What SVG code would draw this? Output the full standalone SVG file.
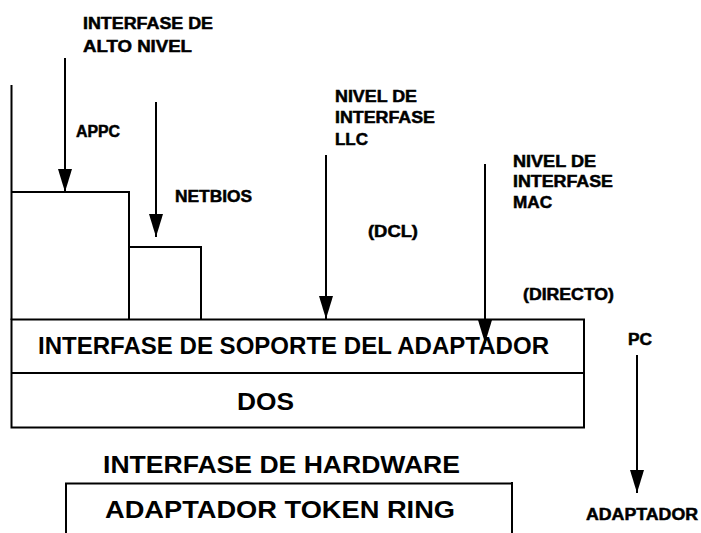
<svg xmlns="http://www.w3.org/2000/svg" width="701" height="533" viewBox="0 0 701 533">
<style>
text{font-family:"Liberation Sans",Arial,sans-serif;font-weight:bold;fill:#000}
.s{font-size:16px;stroke:#000;stroke-width:0.5}
.b{font-size:24px}
.ln{stroke:#000;stroke-width:2;fill:none}
.ar{stroke:#000;stroke-width:2;fill:none;marker-end:url(#ah)}
</style>
<defs>
<marker id="ah" markerUnits="userSpaceOnUse" markerWidth="24" markerHeight="14" refX="23" refY="7" orient="auto">
<path d="M0,0 L23,7 L0,14 Z" fill="#000"/>
</marker>
</defs>
<rect width="701" height="533" fill="#fff"/>
<g id="appc">
<path class="ln" d="M11.5,85 V320 M11.5,192 H129 V320"/>
<text class="s" x="76" y="137" textLength="44" lengthAdjust="spacingAndGlyphs">APPC</text>
</g>
<g id="netbios">
<path class="ln" d="M129,247 H201 V320"/>
<text class="s" x="175" y="202" textLength="77" lengthAdjust="spacingAndGlyphs">NETBIOS</text>
</g>
<g id="soporte">
<rect class="ln" x="11.5" y="319.5" width="572.5" height="108"/>
<text class="b" x="38" y="354" textLength="511" lengthAdjust="spacingAndGlyphs">INTERFASE DE SOPORTE DEL ADAPTADOR</text>
</g>
<g id="dos">
<path class="ln" d="M11.5,373 H584"/>
<text class="b" x="237" y="410" textLength="57" lengthAdjust="spacingAndGlyphs">DOS</text>
</g>
<g id="hardware">
<text class="b" x="103" y="473" textLength="357" lengthAdjust="spacingAndGlyphs">INTERFASE DE HARDWARE</text>
</g>
<g id="tokenring">
<path class="ln" d="M66,533 V483.5 H512 M512,482 V533"/>
<text class="b" x="105" y="518" textLength="350" lengthAdjust="spacingAndGlyphs">ADAPTADOR TOKEN RING</text>
</g>
<g id="labels">
<text class="s" x="83" y="29" textLength="130" lengthAdjust="spacingAndGlyphs">INTERFASE DE</text>
<text class="s" x="83" y="52" textLength="109" lengthAdjust="spacingAndGlyphs">ALTO NIVEL</text>
<text class="s" x="335" y="102" textLength="82" lengthAdjust="spacingAndGlyphs">NIVEL DE</text>
<text class="s" x="335" y="123" textLength="100" lengthAdjust="spacingAndGlyphs">INTERFASE</text>
<text class="s" x="335" y="145" textLength="33" lengthAdjust="spacingAndGlyphs">LLC</text>
<text class="s" x="513" y="167" textLength="83" lengthAdjust="spacingAndGlyphs">NIVEL DE</text>
<text class="s" x="513" y="187" textLength="100" lengthAdjust="spacingAndGlyphs">INTERFASE</text>
<text class="s" x="513" y="208" textLength="39" lengthAdjust="spacingAndGlyphs">MAC</text>
<text class="s" x="368" y="237" textLength="50" lengthAdjust="spacingAndGlyphs">(DCL)</text>
<text class="s" x="523" y="300" textLength="91" lengthAdjust="spacingAndGlyphs">(DIRECTO)</text>
<text class="s" x="628" y="345" textLength="24" lengthAdjust="spacingAndGlyphs">PC</text>
<text class="s" x="586" y="520" textLength="112" lengthAdjust="spacingAndGlyphs">ADAPTADOR</text>
</g>
<g id="connectors">
<path class="ar" d="M65,58 V192"/>
<path class="ar" d="M156,102 V237"/>
<path class="ar" d="M326,155 V319"/>
<path class="ar" d="M485,164 V343"/>
<path class="ar" d="M637,355 V493"/>
</g>
</svg>
